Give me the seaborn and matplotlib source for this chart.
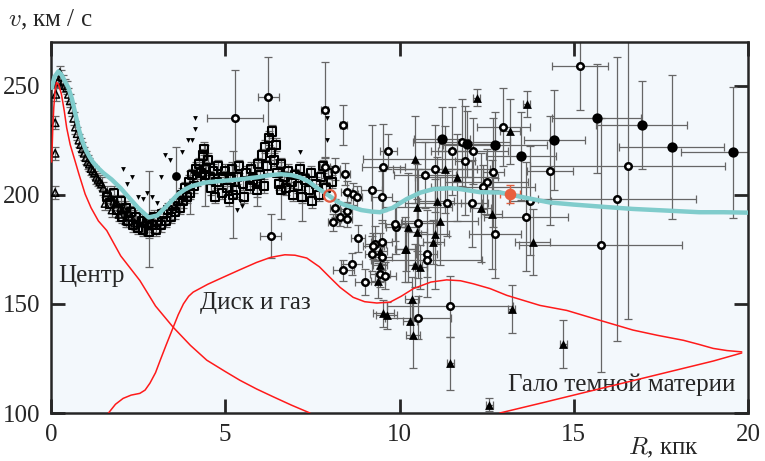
import matplotlib
matplotlib.use('Agg')
import matplotlib.pyplot as plt
import pandas as pd
import seaborn as sns

# --- model curves (R in kpc, v in km/s) ---
total_r = [0.02, 0.1, 0.21, 0.3, 0.4, 0.5, 0.6, 0.7, 0.8, 0.9, 1.0, 1.1, 1.2, 1.35, 1.5, 1.74, 2.0, 2.22, 2.5, 2.8,
           3.05, 3.27, 3.45, 3.65, 3.85, 4.04, 4.42, 4.94, 5.4, 5.9, 6.3, 6.6, 6.9, 7.14, 7.4, 7.62, 7.9, 8.2, 8.4,
           8.6, 8.9, 9.2, 9.44, 9.8, 10.2, 10.6, 10.97, 11.45, 11.74, 12.3, 12.9, 13.5, 14.3, 15.0, 16.0, 16.7,
           17.6, 18.6, 19.3, 20.0]
total_v = [249, 254, 256.5, 255, 252, 249, 244, 237, 230, 224.5, 220.5, 217.5, 215, 212.3, 210, 207, 203, 199, 194,
           189.6, 190.5, 194, 197, 200.3, 202.5, 204, 205.6, 206.4, 207, 208, 209, 209.4, 209, 208, 206, 203.3,
           200.5, 197, 195.5, 194.5, 193, 192.3, 192, 194, 198, 201, 202.6, 203, 202.6, 201.2, 201, 199, 196.5,
           195.5, 194.3, 193.5, 192.8, 192, 192, 191.8]

center_r = [0.02, 0.05, 0.08, 0.12, 0.16, 0.22, 0.3, 0.38, 0.45, 0.55, 0.69, 0.8, 0.98, 1.15, 1.36, 1.6, 2.0, 2.55,
            3.0, 3.5, 4.0, 4.47, 5.0, 5.42, 5.9, 6.38, 6.9, 7.43]
center_v = [215, 230, 240, 248, 251.5, 250.5, 246, 238.5, 230.7, 223, 215.5, 209.5, 200.3, 194, 188, 183.6, 172,
            160.7, 149, 139.4, 131, 124.2, 119, 115, 111, 107.4, 103.6, 100]

disk_r = [1.65, 1.85, 2.07, 2.3, 2.55, 2.7, 2.84, 3.0, 3.13, 3.3, 3.51, 3.65, 3.8, 3.95, 4.08, 4.5, 4.94, 5.4,
          5.9, 6.3, 6.71, 7.0, 7.34, 7.7, 8.0, 8.3, 8.67, 9.0, 9.35, 9.73, 10.05, 10.4, 10.9, 11.35, 11.75, 12.12,
          12.6, 13.08, 14.03, 14.8, 15.7, 16.7, 17.4, 18.15, 18.6, 19.0, 19.4, 19.82]
disk_v = [100, 104, 106.7, 108.2, 109, 110.5, 113.7, 118.5, 124, 131, 139.4, 145, 150, 153.5, 155.4, 159, 162.2,
          165.5, 169, 171.3, 172.5, 172.3, 171, 167, 162.2, 157.5, 153, 151, 150.4, 150.8, 153.5, 157, 160, 161,
          160.6, 159.2, 157, 153.9, 149.3, 147, 142.7, 138, 135.6, 133.3, 131.4, 129.6, 128.6, 128]

halo_r = [12.88, 14.0, 15.0, 16.0, 17.0, 18.0, 19.0, 19.82]
halo_v = [100, 104.3, 108.2, 112.1, 116, 119.9, 123.8, 127.5]

# --- observations ---
tri_open_r = [0.12, 0.12, 0.12, 0.14, 0.2, 0.25, 0.3, 0.35, 0.4, 0.45, 0.5, 0.55, 0.6, 0.65, 0.7, 0.75, 0.8, 0.85,
              0.9, 0.95, 1.0, 1.05, 1.1, 1.15, 1.2, 1.25, 1.3, 1.35, 1.4, 1.45, 1.5, 1.6, 1.7, 1.8, 1.9, 2.0, 2.1,
              2.2, 2.3, 1.55, 1.75, 1.95, 2.15, 2.4]
tri_open_v = [201, 219, 233, 246, 252, 256, 254, 252, 250, 249, 246, 243, 239, 235, 231, 228, 225, 223, 221, 219,
              217, 215, 214, 212, 211, 210, 208, 207, 206, 205, 203, 201, 199, 197, 196, 194, 193, 192, 190, 196,
              193, 191, 188, 187]

sq_r = [1.6, 1.7, 1.8, 1.9, 2.0, 2.05, 2.15, 2.2, 2.3, 2.35, 2.45, 2.5, 2.6, 2.65, 2.75, 2.8, 2.9, 2.95, 3.0, 3.05,
        3.15, 3.2, 3.3, 3.35, 3.45, 3.5, 3.55, 3.65, 3.7, 3.75, 3.8, 3.85, 3.9, 3.95, 4.0, 4.05, 4.1, 4.15, 4.2,
        4.25, 4.3, 4.35, 4.4, 4.45, 4.5, 4.55, 4.6, 4.65, 4.7, 4.75, 4.8, 4.9, 4.95, 5.0, 5.05, 5.1, 5.15, 5.2,
        5.3, 5.35, 5.4, 5.5, 5.55, 5.6, 5.7, 5.75, 5.8, 5.9, 5.95, 6.0, 6.05, 6.1, 6.15, 6.2, 6.25, 6.3, 6.35, 6.4,
        6.45, 6.5, 6.55, 6.6, 6.7, 6.75, 6.8, 6.9, 6.95, 7.0, 7.1, 7.15, 7.2, 7.3, 7.4, 7.45, 7.5, 7.6, 7.7, 7.75,
        7.8, 7.9, 7.95, 8.05]
sq_v = [199, 196, 201, 193, 197, 190, 194, 188, 192, 186, 190, 185, 188, 184, 187, 183, 186, 190, 184, 188, 186,
        191, 188, 193, 190, 195, 192, 197, 194, 200, 197, 203, 199, 206, 201, 209, 204, 212, 207, 214, 210, 218,
        221, 212, 216, 208, 203, 211, 199, 206, 213, 201, 208, 211, 203, 198, 207, 212, 202, 208, 213, 205, 199,
        210, 204, 212, 207, 202, 214, 209, 218, 204, 222, 213, 226, 219, 229, 216, 223, 210, 205, 214, 208, 203,
        211, 206, 200, 209, 204, 212, 199, 207, 202, 210, 197, 205, 200, 208, 213, 203, 210, 206]

sq_big_r = [2.8, 4.0, 4.42, 5.23, 5.9, 6.6, 7.2]
sq_big_v = [189, 201, 209, 200, 205, 202, 199]
sq_big_err = [22, 10, 14, 20, 10, 13, 11]

dot_r = [2.07, 2.17, 2.33, 2.5, 2.64, 2.89, 3.17, 3.27, 3.42, 3.75, 3.93, 4.04, 4.13, 4.13, 5.42, 5.47, 5.35, 6.48,
         7.14, 7.91, 7.93, 3.05, 2.75]
dot_v = [212, 205, 208, 199, 198, 199, 208, 218, 216, 219.5, 225, 225, 230, 235, 197, 195, 193, 215.5, 219.5, 235,
         225, 196, 201]

big_dot_r = [3.6]
big_dot_v = [208.7]
big_dot_err = [13]

dia_r = [5.28, 6.23, 6.31, 7.86, 8.39, 9.68, 9.54, 9.2, 9.49, 10.73, 11.02, 11.5, 11.88, 12.1, 11.78, 11.35, 12.07,
         10.54, 9.9, 8.82, 9.3, 9.49, 9.2, 10.78, 8.1, 8.29, 8.48, 8.15, 8.48, 8.67, 8.77, 8.48, 7.86, 8.15, 8.44,
         9.87, 9.25, 9.49, 8.63, 8.39, 9.44, 9.59, 9.01, 10.78, 12.74, 11.45, 10.54, 15.18, 12.98, 12.69, 14.32,
         12.5, 12.4, 13.74, 13.63, 16.23, 16.55, 15.77]
dia_v = [235, 245, 181, 239, 232, 220, 212.5, 202, 199, 209, 212, 220, 215.5, 220, 224, 196, 196, 187, 185, 180,
         177.6, 178.4, 173, 173, 187.3, 189.6, 189, 194, 192.7, 200.3, 198.8, 201.2, 212.5, 211.7, 209.4, 186.6,
         176.7, 171.4, 168.4, 165.3, 163.8, 163, 160, 170.2, 182, 148.9, 143.7, 259, 231, 210.4, 211, 205.8, 203.5,
         197.3, 190, 198, 213, 177]
dia_xerr = [0.8, 0.3, 0.3, 0.1, 0.1, 0.25, 0.63, 0.3, 0.3, 0.9, 1.2, 0.6, 0.3, 1.0, 1.4, 1.2, 0.3, 0.5, 0.3, 0.2,
            0.3, 0.3, 0.2, 0.3, 0.15, 0.15, 0.15, 0.15, 0.15, 0.15, 0.15, 0.15, 0.15, 0.15, 0.15, 0.3, 0.3, 0.3,
            0.3, 0.3, 0.3, 0.3, 0.3, 1.6, 0.75, 1.8, 0.95, 0.8, 0.77, 0.3, 0.65, 1.2, 1.5, 0.6, 1.2, 2.27, 2.8, 2.35]
dia_yerr = [22, 18, 10, 22, 9, 8, 20, 30, 12, 15, 20, 20, 25, 15, 20, 15, 20, 25, 12, 6, 8, 10, 8, 20, 4, 4, 4, 4,
            4, 5, 5, 5, 5, 5, 5, 8, 6, 6, 5, 5, 6, 6, 6, 8, 20, 14, 10, 20, 18, 25, 25, 15, 10, 25, 25, 65, 70, 58]

tri_r = [12.21, 13.65, 13.17, 11.64, 12.33, 12.65, 13.82, 10.45, 11.31, 11.07, 10.5, 10.25, 11.02, 10.16, 11.16,
         10.49, 10.97, 10.2, 10.45, 10.59, 9.39, 10.35, 9.54, 9.63, 10.31, 10.4, 11.45, 12.58, 9.44, 13.22, 14.7,
         9.45]
tri_v = [244.5, 241.7, 229, 208, 194, 191, 178.4, 216.3, 211.7, 197.3, 194.2, 185, 182, 175, 188, 183, 178.4,
         175.2, 167.6, 166.8, 160.7, 152.4, 145.6, 144.7, 142.2, 135.6, 122.7, 103.7, 174.4, 147.8, 131.8, 168]
tri_xerr = [0.1, 0.1, 0.3, 1.2, 0.3, 0.3, 0.5, 1.5, 1.3, 0.5, 1.0, 0.3, 0.4, 0.3, 1.1, 0.3, 0.3, 0.3, 0.2, 0.2, 0.2,
            0.2, 0.3, 0.3, 0.2, 0.2, 0.1, 0.1, 0.2, 0.1, 0.1, 0.2]
tri_yerr = [4, 6, 15, 20, 25, 25, 15, 20, 20, 20, 20, 25, 25, 15, 20, 15, 10, 10, 10, 10, 8, 10, 6, 6, 8, 15, 12,
            3, 8, 11, 11, 8]

circ_r = [15.66, 16.95, 17.81, 19.58, 14.44, 13.48, 12.74, 11.93, 11.21]
circ_v = [235, 232, 222, 219.5, 225, 217.8, 222.7, 223.3, 225.4]
circ_xerr = [1.27, 1.3, 1.5, 1.5, 0.87, 1.0, 1.5, 0.8, 0.8]
circ_yerr = [25, 20, 33, 30, 23, 20, 15, 15, 15]

red_r = [8.0, 13.17]
red_v = [199.5, 200.3]

sns.set_style('ticks')
plt.rcParams['font.family'] = ['Liberation Serif', 'DejaVu Serif']
plt.rcParams['mathtext.fontset'] = 'cm'

fig = plt.figure(figsize=(7.65, 4.61), dpi=100)
ax = fig.add_axes([51 / 765, 48 / 461, 697 / 765, 371 / 461])
ax.set_facecolor('#f3f8fc')

ebkw = dict(fmt='none', ecolor='#666666', elinewidth=0.9, capsize=3, capthick=0.9, zorder=2)
ax.errorbar(tri_open_r, tri_open_v, yerr=3, **ebkw)
ax.errorbar(sq_r, sq_v, yerr=3, **ebkw)
ax.errorbar(sq_big_r, sq_big_v, yerr=sq_big_err, **ebkw)
ax.errorbar(big_dot_r, big_dot_v, yerr=big_dot_err, **ebkw)
ax.errorbar(dia_r, dia_v, xerr=dia_xerr, yerr=dia_yerr, **ebkw)
ax.errorbar(tri_r, tri_v, xerr=tri_xerr, yerr=tri_yerr, **ebkw)
ax.errorbar(circ_r, circ_v, xerr=circ_xerr, yerr=circ_yerr, **ebkw)
ax.errorbar([red_r[1]], [red_v[1]], xerr=0.3, yerr=4, fmt='none', ecolor='#e06040', elinewidth=1, capsize=3,
            zorder=2)

sns.scatterplot(x=tri_open_r, y=tri_open_v, marker='^', s=28, facecolor='none', edgecolor='black', linewidth=1.1,
                ax=ax, zorder=3)
sns.scatterplot(x=sq_r + sq_big_r, y=sq_v + sq_big_v, marker='s', s=34, facecolor='none', edgecolor='black',
                linewidth=1.5, ax=ax, zorder=3)
sns.scatterplot(x=dot_r, y=dot_v, marker='v', s=12, color='black', linewidth=0, ax=ax, zorder=3)
sns.scatterplot(x=big_dot_r, y=big_dot_v, marker='o', s=40, color='black', linewidth=0, ax=ax, zorder=3)
sns.scatterplot(x=dia_r, y=dia_v, marker='o', s=22, facecolor='white', edgecolor='black', linewidth=1.8, ax=ax,
                zorder=4)
sns.scatterplot(x=tri_r, y=tri_v, marker='^', s=40, color='black', linewidth=0, ax=ax, zorder=4)
sns.scatterplot(x=circ_r, y=circ_v, marker='o', s=55, color='black', linewidth=0, ax=ax, zorder=4)

curves = pd.concat([
    pd.DataFrame({'R': center_r, 'v': center_v, 'part': 'center'}),
    pd.DataFrame({'R': disk_r, 'v': disk_v, 'part': 'disk'}),
    pd.DataFrame({'R': halo_r, 'v': halo_v, 'part': 'halo'}),
])
sns.lineplot(data=curves, x='R', y='v', units='part', estimator=None, sort=False, color='#ff1a1a', linewidth=1.1,
             ax=ax, zorder=5)
sns.lineplot(x=total_r, y=total_v, sort=False, estimator=None, color='#80cccc', linewidth=3.2, ax=ax, zorder=6)

sns.scatterplot(x=[red_r[0]], y=[red_v[0]], marker='o', s=70, facecolor='none', edgecolor='#e05a40', linewidth=1.6,
                ax=ax, zorder=7)
sns.scatterplot(x=[red_r[1]], y=[red_v[1]], marker='o', s=70, color='#e8603e', linewidth=0, ax=ax, zorder=7)

ax.set_xlim(0, 20)
ax.set_ylim(100, 270)
ax.set_xticks([0, 5, 10, 15, 20])
ax.set_yticks([100, 150, 200, 250])
ax.tick_params(direction='in', length=10, width=2, top=True, right=True, labelsize=18, pad=8)
for sp in ax.spines.values():
    sp.set_linewidth(1.8)
    sp.set_visible(True)
ax.set_xlabel('')
ax.set_ylabel('')

ax.text(0.2, 163, 'Центр', fontsize=18, va='center', ha='left')
ax.text(4.28, 150.2, 'Диск и газ', fontsize=18, va='center', ha='left')
ax.text(13.11, 112.8, 'Гало темной материи', fontsize=18, va='center', ha='left')

fig.text(8 / 765, 1 - 20 / 461, r'$v$, км / с', fontsize=18, va='center', ha='left')
fig.text(628 / 765, 1 - 448 / 461, r'$R$, кпк', fontsize=18, va='center', ha='left')

fig.savefig('out.png', dpi=100)
